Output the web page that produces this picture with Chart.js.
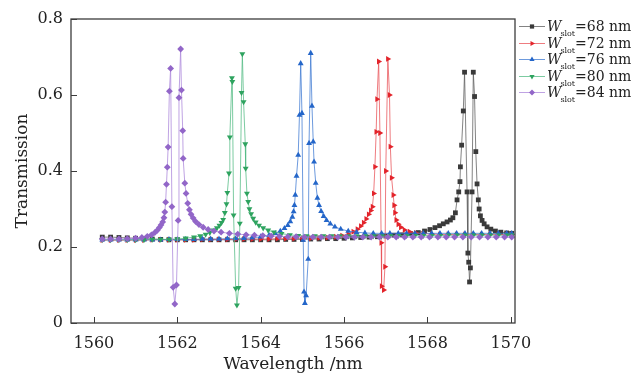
<!DOCTYPE html>
<html>
<head>
<meta charset="utf-8">
<script src="https://cdn.jsdelivr.net/npm/chart.js@4.4.1/dist/chart.umd.min.js"></script>
<style>
  body { margin: 0; background: #fff; }
  #wrap { position: relative; width: 641px; height: 373px; }
  #legend { position: absolute; left: 519px; top: 18px; font-family: "DejaVu Serif", serif; font-size: 14px; color: #222; }
  .legend_row { height: 16.5px; line-height: 16px; white-space: nowrap; display: flex; align-items: center; }
  .legend_row canvas { margin-right: 2px; }
  .legend_row i { font-size: 14px; }
  .legend_row sub { font-size: 8px; vertical-align: -5px; line-height: 0; margin-left: -1px; }
</style>
</head>
<body>
<div id="wrap">
  <canvas id="transmission_chart" width="641" height="373"></canvas>
  <div id="legend"></div>
</div>
<script>
// Tick values
const xTicks = [1560, 1562, 1564, 1566, 1568, 1570];
const yTicks = [0, 0.2, 0.4, 0.6, 0.8];

// Slot widths (nm) for the legend
const slotWidths = [68, 72, 76, 80, 84];

// [wavelength nm, transmission]
const w68 = [
  [1560.2,0.226],[1560.4,0.226],[1560.6,0.225],[1560.8,0.224],[1561.0,0.223],[1561.2,0.222],[1561.4,0.221],
  [1561.6,0.220],[1561.8,0.219],[1562.0,0.219],[1562.2,0.219],[1562.4,0.219],[1562.6,0.219],[1562.8,0.219],
  [1563.0,0.219],[1563.2,0.219],[1563.4,0.219],[1563.6,0.219],[1563.8,0.219],[1564.0,0.219],[1564.2,0.219],
  [1564.4,0.219],[1564.6,0.220],[1564.8,0.220],[1565.0,0.220],[1565.2,0.221],[1565.4,0.221],[1565.6,0.222],
  [1565.8,0.222],[1566.0,0.223],[1566.2,0.224],[1566.4,0.225],[1566.6,0.226],[1566.8,0.227],[1567.0,0.229],
  [1567.2,0.231],[1567.4,0.232],[1567.6,0.235],[1567.78,0.238],[1567.93,0.242],[1568.06,0.246],[1568.18,0.251],
  [1568.29,0.256],[1568.38,0.261],[1568.47,0.266],[1568.55,0.271],[1568.61,0.277],[1568.67,0.290],[1568.71,0.324],
  [1568.75,0.345],[1568.78,0.372],[1568.79,0.411],[1568.82,0.468],[1568.86,0.558],[1568.89,0.660],[1568.95,0.345],
  [1568.97,0.184],[1568.99,0.160],[1569.01,0.108],[1569.03,0.145],[1569.07,0.345],[1569.10,0.660],[1569.13,0.596],
  [1569.16,0.451],[1569.19,0.366],[1569.22,0.324],[1569.24,0.300],[1569.27,0.282],[1569.31,0.270],[1569.36,0.261],
  [1569.43,0.253],[1569.52,0.247],[1569.63,0.242],[1569.76,0.239],[1569.9,0.237],[1570.02,0.236]
];

const w72 = [
  [1560.2,0.218],[1560.4,0.218],[1560.6,0.218],[1560.8,0.218],[1561.0,0.218],[1561.2,0.218],[1561.4,0.219],
  [1561.6,0.219],[1561.8,0.219],[1562.0,0.219],[1562.2,0.219],[1562.4,0.219],[1562.6,0.220],[1562.8,0.220],
  [1563.0,0.220],[1563.2,0.220],[1563.4,0.220],[1563.6,0.221],[1563.8,0.221],[1564.0,0.221],[1564.2,0.221],
  [1564.4,0.222],[1564.6,0.222],[1564.8,0.222],[1565.0,0.223],[1565.2,0.223],[1565.4,0.224],[1565.6,0.225],
  [1565.8,0.227],[1565.95,0.230],[1566.1,0.234],[1566.22,0.240],[1566.32,0.247],[1566.4,0.255],[1566.47,0.264],
  [1566.53,0.274],[1566.59,0.286],[1566.64,0.296],[1566.68,0.306],[1566.71,0.341],[1566.74,0.411],[1566.77,0.503],
  [1566.79,0.589],[1566.83,0.688],[1566.86,0.500],[1566.89,0.211],[1566.90,0.097],[1566.95,0.087],[1566.98,0.148],
  [1567.00,0.400],[1567.05,0.695],[1567.09,0.600],[1567.11,0.464],[1567.14,0.382],[1567.18,0.337],[1567.20,0.310],
  [1567.22,0.290],[1567.25,0.271],[1567.30,0.260],[1567.36,0.252],[1567.45,0.245],[1567.57,0.240],[1567.72,0.237],
  [1567.9,0.235],[1568.1,0.234],[1568.3,0.233],[1568.5,0.233],[1568.7,0.233],[1568.9,0.233],[1569.1,0.233],
  [1569.3,0.233],[1569.5,0.233],[1569.7,0.233],[1569.9,0.233],[1570.02,0.233]
];

const w76 = [
  [1560.2,0.219],[1560.4,0.219],[1560.6,0.219],[1560.8,0.219],[1561.0,0.219],[1561.2,0.219],[1561.4,0.219],
  [1561.6,0.219],[1561.8,0.220],[1562.0,0.220],[1562.2,0.220],[1562.4,0.220],[1562.6,0.221],[1562.8,0.221],
  [1563.0,0.221],[1563.2,0.222],[1563.4,0.222],[1563.6,0.223],[1563.8,0.224],[1564.0,0.227],[1564.2,0.231],
  [1564.35,0.236],[1564.47,0.242],[1564.57,0.249],[1564.65,0.257],[1564.71,0.267],[1564.76,0.279],[1564.79,0.293],
  [1564.81,0.310],[1564.83,0.337],[1564.86,0.387],[1564.90,0.442],[1564.93,0.547],[1564.96,0.683],[1564.99,0.552],
  [1565.02,0.218],[1565.04,0.082],[1565.06,0.052],[1565.09,0.072],[1565.14,0.168],[1565.16,0.473],[1565.20,0.710],
  [1565.23,0.571],[1565.26,0.477],[1565.28,0.424],[1565.32,0.368],[1565.36,0.329],[1565.40,0.310],[1565.45,0.294],
  [1565.51,0.281],[1565.58,0.270],[1565.67,0.261],[1565.78,0.253],[1565.92,0.247],[1566.1,0.242],[1566.3,0.239],
  [1566.5,0.237],[1566.7,0.236],[1566.9,0.236],[1567.1,0.236],[1567.3,0.236],[1567.5,0.236],[1567.7,0.236],
  [1567.9,0.236],[1568.1,0.236],[1568.3,0.236],[1568.5,0.236],[1568.7,0.236],[1568.9,0.236],[1569.1,0.236],
  [1569.3,0.236],[1569.5,0.236],[1569.7,0.236],[1569.9,0.236],[1570.02,0.236]
];

const w80 = [
  [1560.2,0.219],[1560.4,0.219],[1560.6,0.219],[1560.8,0.219],[1561.0,0.219],[1561.2,0.219],[1561.4,0.220],
  [1561.6,0.220],[1561.8,0.220],[1562.0,0.221],[1562.2,0.223],[1562.4,0.226],[1562.55,0.229],[1562.68,0.233],
  [1562.78,0.238],[1562.87,0.244],[1562.95,0.250],[1563.01,0.257],[1563.06,0.264],[1563.10,0.272],[1563.14,0.290],
  [1563.18,0.313],[1563.20,0.343],[1563.24,0.394],[1563.26,0.489],[1563.31,0.645],[1563.32,0.635],[1563.35,0.284],
  [1563.40,0.091],[1563.43,0.047],[1563.47,0.093],[1563.50,0.262],[1563.54,0.606],[1563.56,0.708],[1563.59,0.582],
  [1563.63,0.471],[1563.64,0.407],[1563.67,0.341],[1563.70,0.319],[1563.73,0.300],[1563.77,0.287],[1563.82,0.275],
  [1563.88,0.265],[1563.96,0.257],[1564.06,0.250],[1564.18,0.244],[1564.32,0.239],[1564.5,0.235],[1564.7,0.232],
  [1564.9,0.230],[1565.1,0.229],[1565.3,0.229],[1565.5,0.229],[1565.7,0.229],[1565.9,0.229],[1566.1,0.229],
  [1566.3,0.229],[1566.5,0.229],[1566.7,0.229],[1566.9,0.229],[1567.1,0.230],[1567.3,0.230],[1567.5,0.230],
  [1567.7,0.230],[1567.9,0.230],[1568.1,0.230],[1568.3,0.230],[1568.5,0.231],[1568.7,0.231],[1568.9,0.231],
  [1569.1,0.231],[1569.3,0.231],[1569.5,0.231],[1569.7,0.231],[1569.9,0.231],[1570.02,0.231]
];

const w84 = [
  [1560.2,0.221],[1560.4,0.221],[1560.6,0.221],[1560.8,0.222],[1561.0,0.223],[1561.15,0.225],[1561.28,0.228],
  [1561.38,0.232],[1561.46,0.238],[1561.52,0.244],[1561.57,0.251],[1561.61,0.258],[1561.65,0.266],[1561.68,0.277],
  [1561.70,0.292],[1561.72,0.318],[1561.74,0.365],[1561.76,0.410],[1561.78,0.463],[1561.81,0.610],[1561.84,0.670],
  [1561.87,0.306],[1561.90,0.094],[1561.94,0.050],[1561.98,0.100],[1562.02,0.270],[1562.04,0.593],[1562.08,0.721],
  [1562.10,0.613],[1562.13,0.506],[1562.14,0.433],[1562.18,0.368],[1562.21,0.341],[1562.25,0.315],[1562.29,0.298],
  [1562.33,0.286],[1562.38,0.276],[1562.44,0.267],[1562.52,0.259],[1562.62,0.252],[1562.74,0.246],[1562.88,0.242],
  [1563.05,0.239],[1563.25,0.236],[1563.45,0.234],[1563.65,0.232],[1563.85,0.231],[1564.05,0.230],[1564.25,0.229],
  [1564.45,0.228],[1564.65,0.227],[1564.85,0.227],[1565.05,0.226],[1565.25,0.226],[1565.45,0.226],[1565.65,0.226],
  [1565.85,0.226],[1566.05,0.226],[1566.25,0.226],[1566.45,0.226],[1566.65,0.226],[1566.85,0.226],[1567.05,0.226],
  [1567.25,0.226],[1567.45,0.226],[1567.65,0.226],[1567.85,0.226],[1568.05,0.226],[1568.25,0.226],[1568.45,0.226],
  [1568.65,0.226],[1568.85,0.226],[1569.05,0.226],[1569.25,0.226],[1569.45,0.226],[1569.65,0.226],[1569.85,0.226],
  [1570.02,0.226]
];

document.addEventListener("DOMContentLoaded", () => {
  const canvas = document.getElementById("transmission_chart");
  const legend = document.getElementById("legend");

  const allSeries = [w68, w72, w76, w80, w84];
  // marker colour, line colour, point style, rotation
  const looks = [
    { color: "#3a3a3a", line: "rgba(90,90,90,0.75)", style: "rect", rot: 0 },
    { color: "#e3242b", line: "rgba(232,80,85,0.75)", style: "triangle", rot: 90 },
    { color: "#2466c9", line: "rgba(60,120,210,0.75)", style: "triangle", rot: 0 },
    { color: "#2ea35f", line: "rgba(80,185,130,0.75)", style: "triangle", rot: 180 },
    { color: "#9266c8", line: "rgba(175,140,220,0.8)", style: "rectRot", rot: 0 },
  ];

  const datasets = allSeries.map((series, i) => ({
    label: "W_slot=" + slotWidths[i] + " nm",
    data: series.map(([x, y]) => ({ x, y })),
    order: allSeries.length - i, // later series drawn on top, as in the figure
    borderColor: looks[i].line,
    backgroundColor: looks[i].color,
    borderWidth: 1,
    tension: 0,
    pointStyle: looks[i].style,
    pointRotation: looks[i].rot,
    pointRadius: 3.4,
    pointBorderWidth: 0,
    pointBackgroundColor: looks[i].color,
  }));

  // Box around the plot plus inward tick marks
  const frameTicks = {
    id: "frameTicks",
    afterDatasetsDraw(chart) {
      const { ctx, chartArea: a, scales } = chart;
      ctx.save();
      ctx.strokeStyle = "#3c3c3c";
      ctx.lineWidth = 1.3;
      ctx.strokeRect(a.left, a.top, a.right - a.left, a.bottom - a.top);
      ctx.beginPath();
      xTicks.forEach((v) => {
        const px = Math.round(scales.x.getPixelForValue(v)) + 0.5;
        ctx.moveTo(px, a.bottom);
        ctx.lineTo(px, a.bottom - 6);
      });
      yTicks.forEach((v) => {
        const py = Math.round(scales.y.getPixelForValue(v)) + 0.5;
        ctx.moveTo(a.left, py);
        ctx.lineTo(a.left + 6, py);
      });
      ctx.lineWidth = 1;
      ctx.stroke();
      ctx.restore();
    },
  };

  const serif = "'DejaVu Serif', serif";

  new Chart(canvas, {
    type: "line",
    data: { datasets },
    options: {
      responsive: false,
      animation: false,
      devicePixelRatio: 1,
      layout: { padding: { top: 19, right: 126, left: 0, bottom: 0 } },
      plugins: { legend: { display: false }, tooltip: { enabled: false } },
      scales: {
        x: {
          type: "linear",
          min: 1559.45,
          max: 1570.1,
          afterFit: (s) => { s.height = 50; },
          afterBuildTicks: (s) => { s.ticks = xTicks.map((value) => ({ value })); },
          grid: { display: false, drawTicks: false },
          border: { display: false },
          ticks: { color: "#222", padding: 11, font: { family: serif, size: 16 }, callback: (v) => String(v) },
          title: { display: true, text: "Wavelength /nm", color: "#222", font: { family: serif, size: 17, lineHeight: 1 }, padding: { top: -1, bottom: 0 } },
        },
        y: {
          min: 0,
          max: 0.8,
          afterFit: (s) => { s.width = 71; },
          afterBuildTicks: (s) => { s.ticks = yTicks.map((value) => ({ value })); },
          grid: { display: false, drawTicks: false },
          border: { display: false },
          ticks: { color: "#222", padding: 8, font: { family: serif, size: 16 }, callback: (v) => (v === 0 ? "0" : v.toFixed(1)) },
          title: { display: true, text: "Transmission", color: "#222", font: { family: serif, size: 17, lineHeight: 1 }, padding: { top: 14, bottom: 0 } },
        },
      },
    },
    plugins: [frameTicks],
  });

  // HTML legend, so the subscript can stay real text
  slotWidths.forEach((w, i) => {
    const row = document.createElement("div");
    row.classList.add("legend_row");
    const swatch = document.createElement("canvas");
    swatch.width = 26;
    swatch.height = 12;
    const sctx = swatch.getContext("2d");
    sctx.strokeStyle = looks[i].line;
    sctx.lineWidth = 1;
    sctx.beginPath();
    sctx.moveTo(0, 6.5);
    sctx.lineTo(26, 6.5);
    sctx.stroke();
    sctx.fillStyle = looks[i].color;
    Chart.helpers.drawPoint(sctx, { pointStyle: looks[i].style, rotation: looks[i].rot, radius: 3, borderWidth: 0 }, 13, 6.5);
    row.appendChild(swatch);
    const label = document.createElement("span");
    label.innerHTML = `<i>W</i><sub>slot</sub>=${w} nm`;
    row.appendChild(label);
    legend.appendChild(row);
  });
});
</script>
</body>
</html>
